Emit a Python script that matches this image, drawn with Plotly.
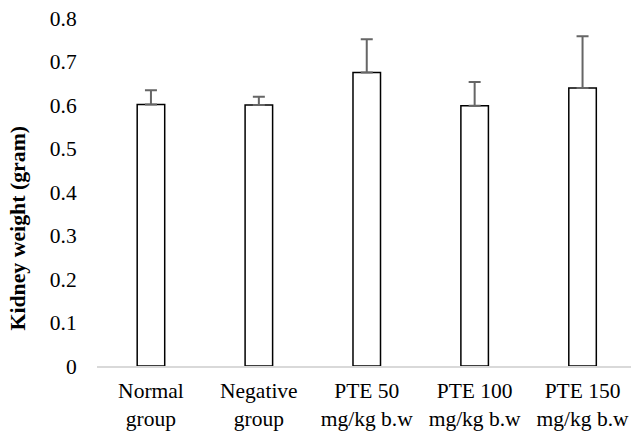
import plotly.graph_objects as go

categories = ["Normal<br>group", "Negative<br>group", "PTE 50<br>mg/kg b.w", "PTE 100<br>mg/kg b.w", "PTE 150<br>mg/kg b.w"]
kidney_weight = [0.601, 0.600, 0.675, 0.598, 0.639]
error_plus = [0.033, 0.019, 0.076, 0.055, 0.119]
y_ticks = [0, 0.1, 0.2, 0.3, 0.4, 0.5, 0.6, 0.7, 0.8]
y_tick_labels = ["0", "0.1", "0.2", "0.3", "0.4", "0.5", "0.6", "0.7", "0.8"]

FONT = "Liberation Serif, Times New Roman, serif"

fig = go.Figure()
fig.add_trace(go.Bar(
    x=list(range(len(categories))),
    y=kidney_weight,
    width=0.255,
    marker=dict(color="white", line=dict(color="black", width=1.5)),
    error_y=dict(type="data", symmetric=False, array=error_plus,
                 arrayminus=[0] * len(error_plus),
                 color="#666666", thickness=2, width=6),
))

fig.update_layout(
    width=631, height=434,
    margin=dict(l=96.5, r=0, t=18, b=68, autoexpand=False),
    paper_bgcolor="white", plot_bgcolor="white",
    font=dict(family=FONT, size=21.5, color="black"),
    showlegend=False,
)
fig.update_xaxes(
    tickmode="array", tickvals=list(range(len(categories))), ticktext=categories,
    range=[-0.5, 4.449], showgrid=False, zeroline=False,
    showline=True, linecolor="#d9d9d9", linewidth=1.5,
    ticks="outside", ticklen=4, tickcolor="rgba(0,0,0,0)",
    automargin=False,
)
fig.update_yaxes(
    range=[0, 0.8], tickmode="array", tickvals=y_ticks, ticktext=y_tick_labels,
    showgrid=False, zeroline=False, showline=False,
    ticks="outside", ticklen=15, tickcolor="rgba(0,0,0,0)",
    automargin=False,
)
fig.add_annotation(
    text="<b>Kidney weight (gram)</b>", textangle=-90,
    xref="paper", yref="paper", x=(17 - 96.5) / (631 - 96.5), y=(434 - 68 - 228) / (434 - 68 - 18),
    xanchor="center", yanchor="middle", showarrow=False,
    font=dict(family=FONT, size=21.8, color="black"),
)

fig.write_html(
    "out.html",
    config={"displayModeBar": False},
    post_script="document.body.style.margin='0';document.body.style.overflow='hidden';",
)
